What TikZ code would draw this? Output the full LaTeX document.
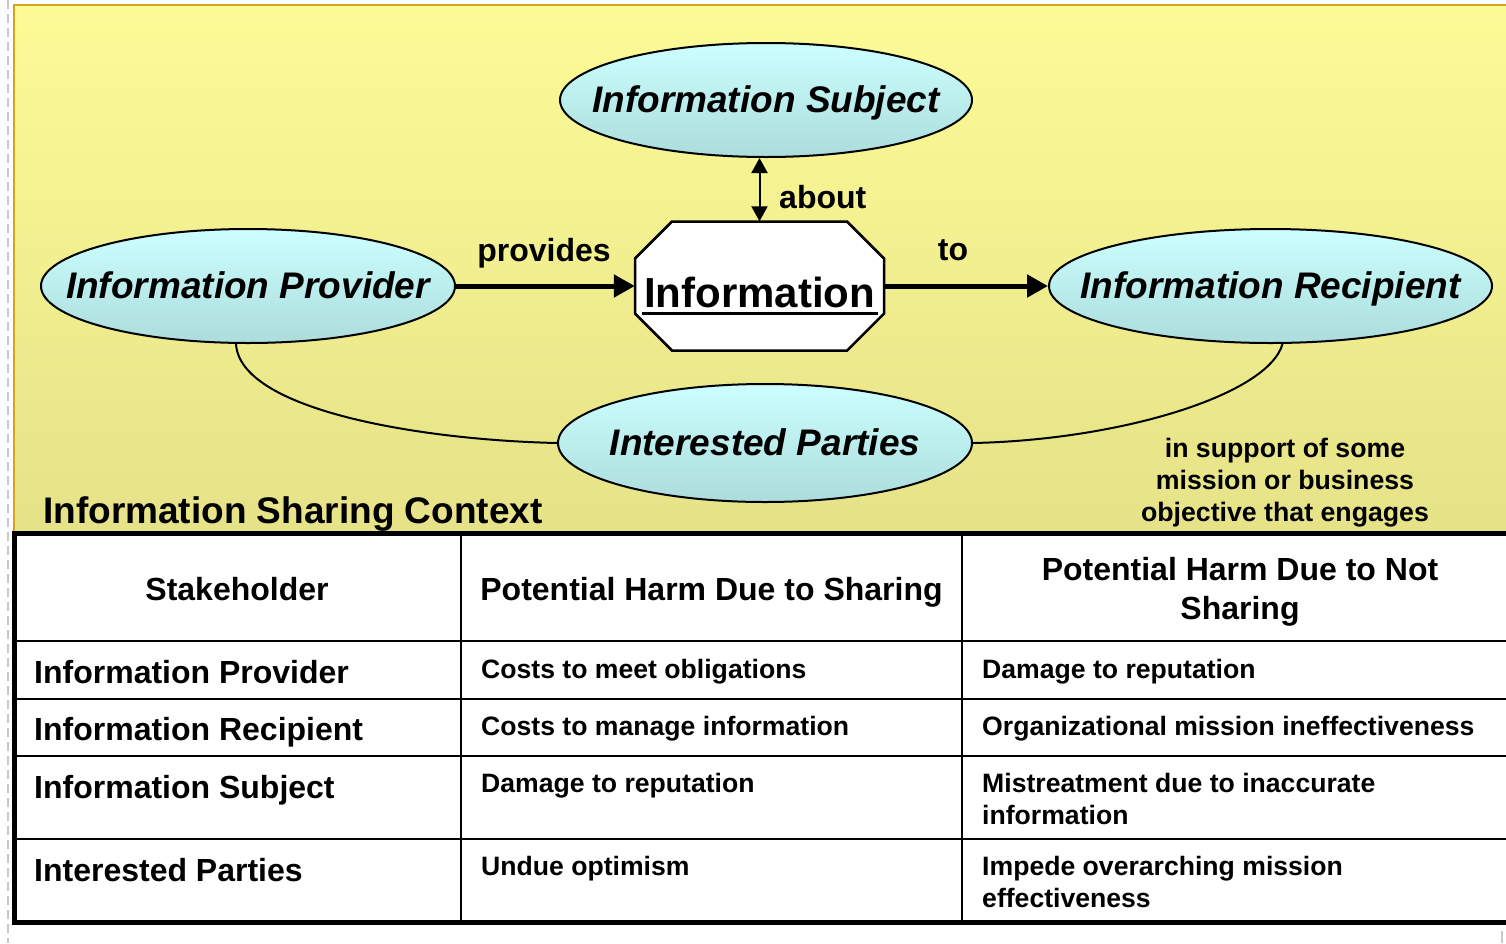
\documentclass[tikz,border=0pt]{standalone}
\usepackage{fontspec}
\setmainfont{Liberation Sans}
\usetikzlibrary{shapes.geometric,arrows.meta,calc}
\definecolor{bgtop}{HTML}{FDFB96}
\definecolor{bgbot}{HTML}{E5E288}
\definecolor{goldedge}{HTML}{D9A21B}
\definecolor{cyantop}{HTML}{CCFFFF}
\definecolor{cyanbot}{HTML}{ACDCDC}
\definecolor{dashgray}{HTML}{C8C8C8}
\tikzset{
  party/.style={ellipse, draw, line width=2pt, inner sep=0pt, top color=cyantop, bottom color=cyanbot,
    text height=25pt, text depth=0pt, font=\fontsize{37}{44}\selectfont\bfseries\itshape},
  flow/.style={line width=5pt, -{Triangle[length=21pt,width=22pt]}},
  verbtxt/.style={font=\fontsize{32}{38}\selectfont\bfseries, inner sep=0pt},
  headtxt/.style={font=\fontsize{32}{39}\selectfont\bfseries, align=center, inner sep=0pt},
  celltxt/.style={font=\fontsize{26.6}{32}\selectfont\bfseries, anchor=west, align=left, inner sep=0pt},
  rowtxt/.style={font=\fontsize{32}{38}\selectfont\bfseries, anchor=west, inner sep=0pt},
  tabline/.style={line width=2.5pt},
  tabframe/.style={line width=5pt}
}
\begin{document}
\begin{tikzpicture}[x=1pt,y=-1pt,line join=miter]
	\useasboundingbox (0,0) rectangle (1506,943);
	\fill[white] (0,0) rectangle (1506,943);
	% context area
	\shade[top color=bgtop, bottom color=bgbot] (13,5) rectangle (1506,531);
	\draw[goldedge, line width=2.5pt] (14,531) -- (14,5) -- (1506,5);
	\draw[dashgray, line width=2pt, dash pattern=on 9pt off 5pt] (7.5,0) -- (7.5,943);
	\draw[dashgray, line width=2pt] (1502,931) -- (1502,943);
	% parties
	\node[party, minimum width=412pt, minimum height=114pt] (subj) at (766,100) {\makebox[0pt]{Information Subject}};
	\node[party, minimum width=414pt, minimum height=114pt] (prov) at (248,286) {\makebox[0pt]{Information Provider}};
	\node[party, minimum width=443pt, minimum height=114pt] (recp) at (1270.5,286) {\makebox[0pt]{Information Recipient}};
	\node[party, minimum width=414pt, minimum height=118pt] (intp) at (765,443) {\makebox[0pt]{Interested Parties}};
	% information octagon
	\draw[line width=2.5pt, fill=white] (635,258.5) -- (672,221.5) -- (847,221.5) -- (884,258.5)
		-- (884,313.5) -- (847,350.5) -- (672,350.5) -- (635,313.5) -- cycle;
	\node[minimum width=249pt, minimum height=129pt, inner sep=0pt, text height=43pt,
		font=\fontsize{42}{50}\selectfont\bfseries] (info) at (759.5,286) {Information};
	\draw[line width=3pt] ([xshift=7pt,yshift=-6pt]info.base west) -- ([xshift=-6pt,yshift=-6pt]info.base east);
	% relations
	\draw[flow] (prov.east) -- (info.west);
	\draw[flow] (info.east) -- (recp.west);
	\draw[line width=2pt, {Triangle[length=15pt,width=16pt]}-{Triangle[length=15pt,width=16pt]}] (info.north) -- (info.north |- subj.south);
	\draw[line width=2pt] ([xshift=-12pt]prov.south) .. controls (240,410) and (420,440) .. (intp.west);
	\draw[line width=2pt] ([xshift=12pt]recp.south) .. controls (1268,395) and (1120,440) .. (intp.east);
	\node[verbtxt] (provides) at (544,253) {provides};
	\node[verbtxt] (to) at (953,250) {to};
	\node[verbtxt, anchor=west] (about) at (779,197) {about};
	\node[font=\fontsize{37}{44}\selectfont\bfseries, anchor=base west, inner sep=0pt] (ctx) at (43,523) {Information Sharing Context};
	\node[font=\fontsize{26.7}{32}\selectfont\bfseries, align=center, inner sep=0pt] (mission) at (1285,483)
		{in support of some\\mission or business\\objective that engages};
	% table
	\fill[white] (14,533) rectangle (1506,922);
	\draw[tabline] (461,533) -- (461,922);
	\draw[tabline] (962,533) -- (962,922);
	\draw[tabline] (14,641) -- (1506,641);
	\draw[tabline] (14,699) -- (1506,699);
	\draw[tabline] (14,756) -- (1506,756);
	\draw[tabline] (14,839) -- (1506,839);
	\draw[tabframe] (1506,533) -- (14,533) -- (14,922.5) -- (1506,922.5);
	\node[headtxt] (hstake) at (237,589) {Stakeholder};
	\node[headtxt] (hshare) at (711.5,592) {Potential Harm Due to Sharing};
	\node[headtxt] (hnoshare) at (1240,592) {Potential Harm Due to Not\\Sharing};
	\node[rowtxt] (rprov) at (34,672) {Information Provider};
	\node[rowtxt] (rrecp) at (34,732) {Information Recipient};
	\node[rowtxt] (rsubj) at (34,790) {Information Subject};
	\node[rowtxt] (rintp) at (34,870) {Interested Parties};
	\node[celltxt] (sprov) at (481,672) {Costs to meet obligations};
	\node[celltxt] (srecp) at (481,729) {Costs to manage information};
	\node[celltxt] (ssubj) at (481,786) {Damage to reputation};
	\node[celltxt] (sintp) at (481,869) {Undue optimism};
	\node[celltxt] (nprov) at (982,672) {Damage to reputation};
	\node[celltxt] (nrecp) at (982,729) {Organizational mission ineffectiveness};
	\node[celltxt] (nsubj) at (982,799) {Mistreatment due to inaccurate\\information};
	\node[celltxt] (nintp) at (982,882) {Impede overarching mission\\effectiveness};
\end{tikzpicture}
\end{document}
